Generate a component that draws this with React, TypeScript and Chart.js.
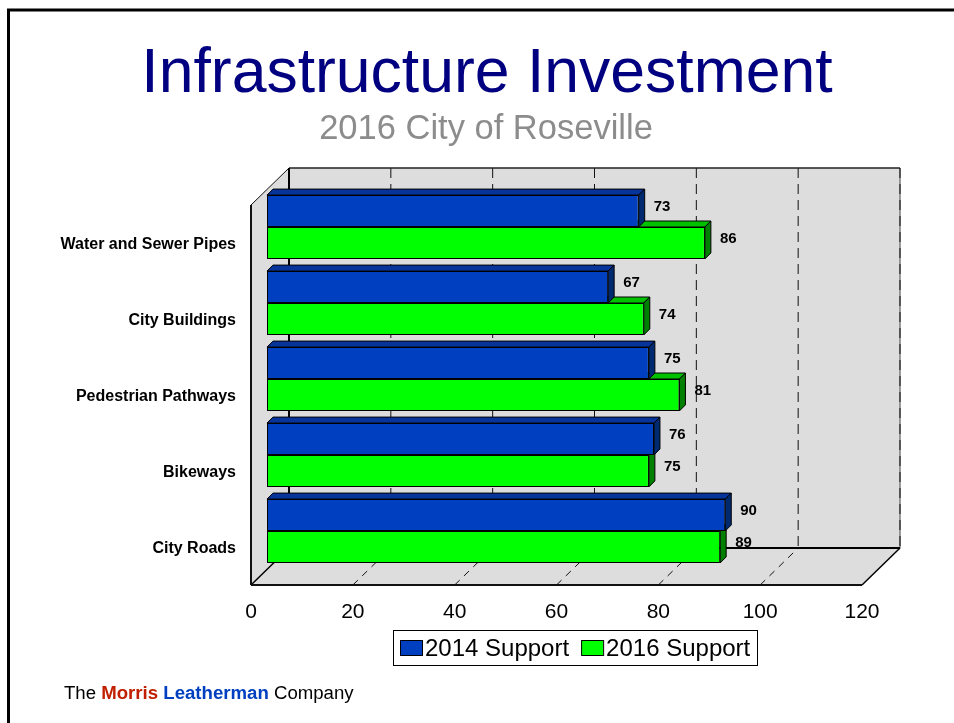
import React, { useEffect, useRef } from "react";
import { Chart, registerables } from "chart.js";

Chart.register(...registerables);

const categories = ["Water and Sewer Pipes", "City Buildings", "Pedestrian Pathways", "Bikeways", "City Roads"];
const support2014 = [73, 67, 75, 76, 90];
const support2016 = [86, 74, 81, 75, 89];
const titleText = "Infrastructure Investment";
const subtitleText = "2016 City of Roseville";
const FONT = "'Liberation Sans', Arial, sans-serif";
const WALL = "#DDDDDD";
const BLUE = { front: "#0040C0", top: "#06349A", side: "#002A70" };
const GREEN = { front: "#00FF00", top: "#00C000", side: "#008000" };
const depth = { x: 38, y: 37 };
const inset = 16;
const barDepth = 6;

function line(ctx: any, pts: number[][], width: number, color: string, dash: number[] = []) {
  ctx.save();
  ctx.beginPath();
  ctx.setLineDash(dash);
  ctx.lineWidth = width;
  ctx.strokeStyle = color;
  pts.forEach((p, i) => (i ? ctx.lineTo(p[0], p[1]) : ctx.moveTo(p[0], p[1])));
  ctx.stroke();
  ctx.restore();
}

function poly(ctx: any, pts: number[][], fill: string, stroke?: string) {
  ctx.beginPath();
  pts.forEach((p, i) => (i ? ctx.lineTo(p[0], p[1]) : ctx.moveTo(p[0], p[1])));
  ctx.closePath();
  ctx.fillStyle = fill;
  ctx.fill();
  if (stroke) {
    ctx.lineWidth = 1;
    ctx.strokeStyle = stroke;
    ctx.stroke();
  }
}

const slidePlugin = {
  id: "slide3d",
  afterLayout(chart: any) {
    chart.boxes.forEach((b: any) => {
      if (b.options && b.options.text) {
        b.left = 0;
        b.right = b.options.text === subtitleText ? 972 : 974;
      }
    });
    const lg = chart.legend;
    lg.left = 388;
    lg.right = 800;
    lg.top = 625;
    lg.bottom = 672;
    lg.adjustHitBoxes();
  },
  beforeDraw(chart: any) {
    const ctx = chart.ctx;
    line(ctx, [[954, 10], [8.5, 10], [8.5, 723]], 3, "#000");
  },
  beforeDatasetsDraw(chart: any) {
    const ctx = chart.ctx;
    const xs = chart.scales.x;
    const ys = chart.scales.y;
    const l = xs.getPixelForValue(xs.min);
    const r = xs.getPixelForValue(xs.max);
    const t = ys.top;
    const b = ys.bottom;
    const dx = depth.x;
    const dy = depth.y;
    poly(ctx, [[l + dx, t - dy], [r + dx, t - dy], [r + dx, b - dy], [l + dx, b - dy]], WALL);
    poly(ctx, [[l, t], [l + dx, t - dy], [l + dx, b - dy], [l, b]], WALL);
    poly(ctx, [[l, b], [l + dx, b - dy], [r + dx, b - dy], [r, b]], WALL);
    xs.ticks.forEach((tick: any) => {
      if (tick.value === xs.min) return;
      const x = xs.getPixelForValue(tick.value);
      if (tick.value !== xs.max) {
        line(ctx, [[x, b], [x + dx, b - dy]], 1, "#111", [7, 6]);
      }
      if (tick.value === xs.max) {
        line(ctx, [[x + dx, t - dy], [x + dx, b - dy]], 1, "#444");
      }
      line(ctx, [[x + dx, t - dy], [x + dx, b - dy]], 1, "#111", [10, 6]);
    });
    line(ctx, [[l + dx, t - dy], [r + dx, t - dy]], 1.5, "#222");
    line(ctx, [[l, t], [l + dx, t - dy]], 1, "#111");
    line(ctx, [[l + dx, t - dy], [l + dx, b - dy]], 2, "#000");
    line(ctx, [[l, t], [l, b]], 2, "#111");
    line(ctx, [[l + dx, b - dy], [r + dx, b - dy]], 2, "#000");
    line(ctx, [[l, b], [l + dx, b - dy]], 1.5, "#000");
    line(ctx, [[r, b], [r + dx, b - dy]], 1.5, "#000");
    line(ctx, [[l, b], [r, b]], 2, "#111");
  },
  beforeDatasetDraw(chart: any, args: any) {
    const ctx = chart.ctx;
    ctx.save();
    ctx.translate(inset, -inset);
    const colors = args.index === 0 ? BLUE : GREEN;
    args.meta.data.forEach((el: any) => {
      const xEnd = el.x;
      const xBase = el.base;
      const top = el.y - el.height / 2;
      const bot = el.y + el.height / 2;
      poly(ctx, [[xBase, top], [xBase + barDepth, top - barDepth], [xEnd + barDepth, top - barDepth], [xEnd, top]], colors.top, "#000");
      poly(ctx, [[xEnd, top], [xEnd + barDepth, top - barDepth], [xEnd + barDepth, bot - barDepth], [xEnd, bot]], colors.side, "#000");
    });
  },
  afterDatasetDraw(chart: any) {
    chart.ctx.restore();
  },
  afterDatasetsDraw(chart: any) {
    const ctx = chart.ctx;
    ctx.save();
    ctx.font = `bold 15px ${FONT}`;
    ctx.fillStyle = "#000";
    ctx.textAlign = "left";
    ctx.textBaseline = "middle";
    chart.data.datasets.forEach((ds: any, i: number) => {
      chart.getDatasetMeta(i).data.forEach((el: any, j: number) => {
        ctx.fillText(String(ds.data[j]), el.x + inset + 15, el.y - inset - 4);
      });
    });
    ctx.restore();
  },
  afterDraw(chart: any) {
    const ctx = chart.ctx;
    ctx.save();
    ctx.lineWidth = 1;
    ctx.strokeStyle = "#000";
    ctx.strokeRect(393.5, 630.5, 364, 35);
    chart.legend.legendHitBoxes.forEach((hit: any, i: number) => {
      ctx.fillStyle = chart.data.datasets[i].backgroundColor;
      ctx.fillRect(hit.left, 640, 22, 15);
      ctx.strokeRect(hit.left + 0.5, 640.5, 22, 15);
    });
    let x = 64;
    const y = 694;
    ctx.textBaseline = "middle";
    ctx.textAlign = "left";
    const parts: [string, string, string][] = [
      ["The ", "normal", "#000"],
      ["Morris ", "bold", "#C02000"],
      ["Leatherman ", "bold", "#0040C0"],
      ["Company", "normal", "#000"],
    ];
    parts.forEach(([text, weight, color]) => {
      ctx.font = `${weight} 18.62px ${FONT}`;
      ctx.fillStyle = color;
      ctx.fillText(text, x, y);
      x += ctx.measureText(text).width;
    });
    ctx.restore();
  },
};

export default function App() {
  const ref = useRef<HTMLCanvasElement>(null);
  useEffect(() => {
    const chart = new Chart(ref.current as HTMLCanvasElement, {
      type: "bar",
      plugins: [slidePlugin],
      data: {
        labels: categories,
        datasets: [
          { label: "2014 Support", data: support2014, backgroundColor: BLUE.front, borderColor: "#000", borderWidth: 1, borderSkipped: false, clip: false },
          { label: "2016 Support", data: support2016, backgroundColor: GREEN.front, borderColor: "#000", borderWidth: 1, borderSkipped: false, clip: false },
        ] as any,
      },
      options: {
        indexAxis: "y",
        responsive: false,
        animation: false,
        categoryPercentage: 0.84,
        barPercentage: 1,
        layout: { padding: { left: 0, right: 92, top: 0, bottom: 52 } },
        scales: {
          x: {
            type: "linear",
            min: 0,
            max: 120,
            grid: { display: false, drawTicks: false },
            border: { display: false },
            ticks: { stepSize: 20, padding: 15, color: "#000", maxRotation: 0, font: { family: FONT, size: 21 } },
            afterFit: (s: any) => { s.height = 40; },
          },
          y: {
            type: "category",
            grid: { display: false, drawTicks: false },
            border: { display: false },
            ticks: { padding: 15, labelOffset: 2, color: "#000", font: { family: FONT, size: 16, weight: "bold" } },
            afterFit: (s: any) => { s.width = 251; },
          },
        },
        plugins: {
          title: { display: true, text: titleText, color: "#000080", padding: { top: 40, bottom: 0 }, font: { family: FONT, size: 62.5, weight: "normal", lineHeight: 1.104 } },
          subtitle: { display: true, text: subtitleText, color: "#8C8C8C", padding: { top: 0, bottom: 54.6 }, font: { family: FONT, size: 34.5, weight: "normal" } },
          tooltip: { enabled: false },
          legend: {
            display: true,
            position: "bottom",
            align: "start",
            onClick: () => {},
            labels: {
              boxWidth: 13,
              boxHeight: 15,
              padding: 12,
              color: "#000",
              font: { family: FONT, size: 24 },
              generateLabels: (c: any) =>
                c.data.datasets.map((d: any, i: number) => ({
                  text: d.label,
                  fillStyle: "rgba(0,0,0,0)",
                  strokeStyle: "rgba(0,0,0,0)",
                  lineWidth: 0,
                  datasetIndex: i,
                })),
            },
          },
        },
      } as any,
    });
    return () => chart.destroy();
  }, []);
  return (
    <div style={{ position: "fixed", left: 0, top: 0, width: 954, height: 723, overflow: "hidden", background: "#fff" }}>
      <canvas ref={ref} width={954} height={723} style={{ display: "block" }} />
    </div>
  );
}
